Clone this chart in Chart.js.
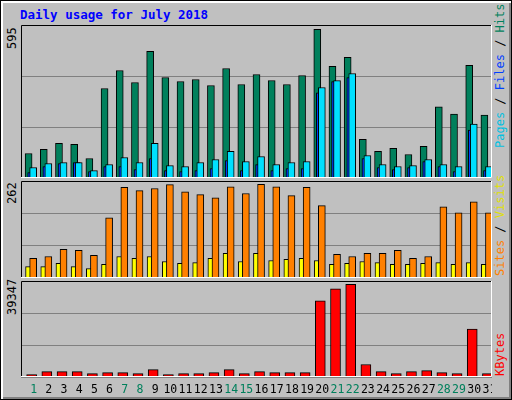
<!DOCTYPE html>
<html><head><meta charset="utf-8">
<script src="https://cdn.jsdelivr.net/npm/chart.js@4"></script>
<style>
html,body{margin:0;padding:0;background:#C0C0C0;}
#frame{position:relative;width:510px;height:398px;background:#C0C0C0;border-left:1px solid #000;border-top:1px solid #000;border-right:1px solid #000;border-bottom:1px solid #000;box-shadow:inset 2px 2px 0 #fff, inset -2px -2px 0 #808080;overflow:hidden;}
.c{position:absolute;}
.t{position:absolute;font-family:"DejaVu Sans Mono",monospace;white-space:nowrap;}
.rot{transform-origin:0 0;transform:rotate(-90deg);}
</style></head><body>
<div id="frame">
<div class="t" style="left:19px;top:6px;font-size:12.5px;font-weight:bold;color:#0000FF;">Daily usage for July 2018</div>
<div class="t rot" style="left:4px;top:48px;font-size:12px;color:#000;">595</div>
<div class="t rot" style="left:4px;top:203px;font-size:12px;color:#000;">262</div>
<div class="t rot" style="left:4px;top:314px;font-size:12px;color:#000;">39347</div>
<div class="t rot" style="left:492px;top:147px;font-size:12px;"><span style="color:#00C0E0">Pages</span><span style="color:#000"> / </span><span style="color:#0040FF">Files</span><span style="color:#000"> / </span><span style="color:#00805C">Hits</span></div>
<div class="t rot" style="left:492px;top:275px;font-size:12px;"><span style="color:#FF8000">Sites</span><span style="color:#000"> / </span><span style="color:#E0E000">Visits</span></div>
<div class="t rot" style="left:492px;top:375px;font-size:12px;color:#FF0000;">KBytes</div>
<canvas id="c1" class="c" style="left:20px;top:24px;width:471px;height:153px"></canvas>
<canvas id="c2" class="c" style="left:20px;top:180px;width:471px;height:97px"></canvas>
<canvas id="c3" class="c" style="left:20px;top:280px;width:471px;height:118px"></canvas>
</div>
<script>
const days=[1,2,3,4,5,6,7,8,9,10,11,12,13,14,15,16,17,18,19,20,21,22,23,24,25,26,27,28,29,30,31];
const weekend=[1,7,8,14,15,21,22,28,29];
const hits=[98,115,139,135,78,358,430,382,507,402,386,394,370,438,374,414,390,374,410,595,447,483,155,107,119,94,127,285,256,451,252];
const files=[42,58,62,62,30,54,82,62,139,50,46,62,74,107,66,86,54,62,66,362,390,418,90,54,46,50,74,54,46,216,46];
const pages=[22,46,58,62,26,46,46,34,78,30,26,30,38,70,30,54,30,38,38,341,386,402,78,42,34,42,66,46,26,192,30];
const visits=[55,60,80,77,63,168,253,244,250,261,241,233,224,255,236,262,255,230,253,202,66,60,69,69,77,55,60,199,182,213,182];
const sites=[32,32,41,32,26,38,60,55,60,46,41,43,55,69,46,69,49,52,55,49,38,41,46,43,38,38,41,43,38,43,38];
const kbytes=[1000,2290,2290,2290,1430,1860,1860,1430,3150,1000,1430,1430,1860,3150,1430,2290,1860,1860,1860,32340,37490,39347,5290,2290,1430,2290,2720,1860,1430,20320,1430];
const maxLabels=[595,262,39347];

const pts=(arr,off)=>arr.map((v,i)=>({x:days[i]+off,y:v}));
const border={id:'border',afterDraw(ch){const a=ch.chartArea,c=ch.ctx;c.save();c.lineWidth=1;
 c.strokeStyle='#000';c.beginPath();c.moveTo(a.left+0.5,a.bottom);c.lineTo(a.left+0.5,a.top+0.5);c.lineTo(a.right,a.top+0.5);c.stroke();
 c.strokeStyle='#fff';c.beginPath();c.moveTo(a.right-0.5,a.top);c.lineTo(a.right-0.5,a.bottom-0.5);c.lineTo(a.left,a.bottom-0.5);c.stroke();c.restore();}};
const dayLabels={id:'dayLabels',afterDraw(ch){const c=ch.ctx,x=ch.scales.x;c.save();c.font='11.5px "DejaVu Sans Mono"';c.textAlign='center';c.textBaseline='middle';
 days.forEach(d=>{c.fillStyle=weekend.includes(d)?'#00805C':'#000';c.fillText(String(d),x.getPixelForValue(d),ch.chartArea.bottom+13);});c.restore();}};
function ds(data,color,w){return {data,backgroundColor:color,borderColor:'#000',borderWidth:1,barThickness:w,grouped:false,borderSkipped:'bottom'};}
function make(id,datasets,max,padBottom,extra){
 new Chart(document.getElementById(id),{type:'bar',data:{datasets},
  options:{responsive:false,animation:false,devicePixelRatio:1,layout:{padding:{bottom:padBottom}},
   plugins:{legend:{display:false},tooltip:{enabled:false}},
   scales:{x:{type:'linear',min:0.17,max:31.17,display:false,offset:false},
    y:{min:0,max:max,display:true,border:{display:false},ticks:{display:false},
      afterBuildTicks(s){s.ticks=[0,max/3,2*max/3].map(v=>({value:v}));},
      grid:{color:'#808080',drawTicks:false,lineWidth:1}}}},
  plugins:[border].concat(extra||[])});
}
const cv=[['c1',471,153],['c2',471,97],['c3',471,118]];
cv.forEach(([id,w,h])=>{const e=document.getElementById(id);e.width=w;e.height=h;});
make('c1',[ds(pts(files,-0.03),'#00E0FF',7),ds(pts(pages,-0.16),'#0040FF',7),ds(pts(hits,-0.33),'#00805C',7)],612,0);
make('c2',[ds(pts(visits,-0.03),'#FF8000',7),ds(pts(sites,-0.30),'#FFFF00',7)],271,0);
make('c3',[ds(pts(kbytes,-0.13),'#FF0000',10)],40770,22,[dayLabels]);
</script>
</body></html>
